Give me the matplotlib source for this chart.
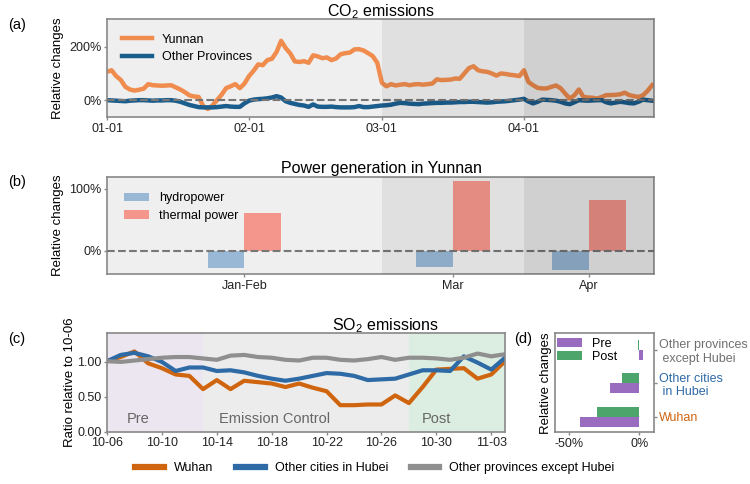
import matplotlib.pyplot as plt
import numpy as np

plt.rcParams['font.family'] = 'Liberation Sans'
plt.rcParams['mathtext.default'] = 'regular'

# (a) daily CO2 relative changes, 01-01 .. 04-29 (%)
yunnan = [106, 112, 90, 76, 50, 40, 36, 39, 43, 60,
          56, 55, 54, 55, 56, 48, 40, 30, 18, 14,
          12, -22, -33, -20, 0, 20, 45, 52, 60, 45,
          62, 90, 110, 134, 131, 150, 155, 180, 222, 195,
          175, 145, 143, 146, 140, 168, 164, 157, 160, 150,
          156, 172, 176, 178, 190, 191, 186, 176, 165, 140,
          65, 52, 60, 55, 58, 60, 56, 59, 60, 58,
          60, 62, 78, 75, 76, 77, 81, 80, 100, 120,
          127, 112, 108, 106, 100, 92, 100, 98, 95, 93,
          90, 112, 68, 56, 46, 44, 44, 50, 55, 45,
          25, 6, 18, 40, 12, 10, 9, 6, 12, 19,
          19, 20, 22, 28, 19, 15, 12, 18, 35, 56]
other_prov = [0, -1, -2, -3, -4, -2, -1, 0, 0, -1,
              -2, -1, -1, 0, 0, -2, -6, -12, -18, -22,
              -26, -27, -27, -27, -26, -24, -22, -24, -25, -25,
              -12, -2, 2, 4, 5, 7, 10, 15, 10, -4,
              -10, -14, -18, -20, -25, -16, -24, -25, -25, -24,
              -26, -27, -27, -27, -26, -22, -26, -26, -24, -22,
              -20, -19, -17, -13, -10, -11, -13, -14, -15, -13,
              -12, -11, -10, -10, -9, -9, -8, -7, -7, -6,
              -6, -7, -8, -9, -8, -6, -5, -4, -2, 0,
              2, 5, -5, -12, -6, 2, 1, 0, -2, -6,
              -12, -15, -8, 0, -1, -2, -1, 0, 0, -8,
              -12, -9, -6, -8, -11, -12, -6, 2, 0, -2]
co2_tick_labels = ['01-01', '02-01', '03-01', '04-01']
co2_tick_days = [0, 31, 60, 91]

# (b) power generation in Yunnan (%)
months = ['Jan-Feb', 'Mar', 'Apr']
month_pos = [30, 75.5, 105.2]
hydro = [-28, -27, -31]
thermal = [61, 112, 82]

# (c) SO2 ratio relative to 10-06
so2_dates = ['10-%02d' % d for d in range(6, 32)] + ['11-%02d' % d for d in range(1, 5)]
wuhan = [1.01, 1.07, 1.15, 0.98, 0.91, 0.82, 0.80, 0.61, 0.74, 0.61,
         0.73, 0.71, 0.69, 0.64, 0.69, 0.63, 0.58, 0.38, 0.38, 0.39,
         0.39, 0.52, 0.41, 0.64, 0.89, 0.90, 0.91, 0.76, 0.82, 1.01]
hubei_other = [1.01, 1.10, 1.13, 1.08, 1.00, 0.87, 0.92, 0.92, 0.87, 0.88,
               0.85, 0.80, 0.76, 0.73, 0.76, 0.80, 0.84, 0.83, 0.80, 0.74,
               0.75, 0.76, 0.82, 0.88, 0.88, 0.87, 1.08, 0.99, 0.89, 1.06]
prov_other = [1.01, 1.00, 1.02, 1.04, 1.06, 1.07, 1.07, 1.05, 1.03, 1.09,
              1.10, 1.07, 1.06, 1.03, 1.02, 1.06, 1.06, 1.03, 1.02, 1.04,
              1.07, 1.03, 1.06, 1.06, 1.05, 1.03, 1.06, 1.12, 1.08, 1.11]

# (d) relative changes by group (%)
groups = ['Wuhan', 'Other cities\n in Hubei', 'Other provinces\n except Hubei']
group_colors = ['#d0650f', '#2e6aa6', '#707070']
pre = [-42, -20.5, 2.4]
post = [-30, -12.5, -1.2]

spine_c = '#888888'
c_yunnan = '#f08c4e'
c_prov = '#1b5e8e'
c_wuhan = '#d0650f'
c_hubei = '#2e6aa6'
c_gray = '#8f8f8f'


def style(ax):
    for s in ax.spines.values():
        s.set_color(spine_c)
        s.set_linewidth(1.2)
    ax.tick_params(colors=spine_c, labelcolor='#222222', labelsize=9,
                   length=2.5, width=1, pad=1.5)


fig = plt.figure(figsize=(7.5, 4.84), dpi=100)
W, H = 750, 484


def add_ax(l, r, t, b):
    return fig.add_axes([l / W, 1 - b / H, (r - l) / W, (b - t) / H])


ax_a = add_ax(107, 654, 18.7, 117)
ax_b = add_ax(107, 654, 176.7, 274.3)
ax_c = add_ax(107, 505, 333.3, 431.7)
ax_d = add_ax(555, 654, 333.3, 432.3)

# ---- (a)
days = np.arange(len(yunnan))
ax_a.set_facecolor('#efefef')
ax_a.plot(days, yunnan, color=c_yunnan, lw=3.2, label='Yunnan', zorder=2)
ax_a.plot(days, other_prov, color=c_prov, lw=3.2, label='Other Provinces', zorder=2)
ax_a.axhline(0, color='#777777', ls='--', lw=1.5, zorder=3)
ax_a.axvspan(60, 91, color='k', alpha=0.063, lw=0, zorder=4)
ax_a.axvspan(91, 119.4, color='k', alpha=0.13, lw=0, zorder=4)
ax_a.set_xlim(0, 119.4)
ax_a.set_ylim(-63, 305)
ax_a.set_xticks(co2_tick_days)
ax_a.set_xticklabels(co2_tick_labels)
ax_a.set_yticks([0, 200])
ax_a.set_yticklabels(['0%', '200%'])
ax_a.set_ylabel('Relative changes', fontsize=9.5)
style(ax_a)
ax_a.legend(loc='upper left', bbox_to_anchor=(0.018, 0.90), frameon=False,
            fontsize=9, handlelength=2.4, borderaxespad=0, labelspacing=0.45)

# ---- (b)
ax_b.set_facecolor('#efefef')
ax_b.bar(month_pos, hydro, width=-8, align='edge', color='#98b8d6',
         label='hydropower', zorder=2)
ax_b.bar(month_pos, thermal, width=8, align='edge', color='#f4968b',
         label='thermal power', zorder=2)
ax_b.axhline(0, color='#777777', ls='--', lw=1.5, zorder=3)
ax_b.axvspan(60, 91, color='k', alpha=0.063, lw=0, zorder=4)
ax_b.axvspan(91, 119.4, color='k', alpha=0.13, lw=0, zorder=4)
ax_b.set_xlim(0, 119.4)
ax_b.set_ylim(-38, 119)
ax_b.set_xticks(month_pos)
ax_b.set_xticklabels(months)
ax_b.set_yticks([0, 100])
ax_b.set_yticklabels(['0%', '100%'])
ax_b.set_ylabel('Relative changes', fontsize=9.5)
style(ax_b)
ax_b.legend(loc='upper left', bbox_to_anchor=(0.022, 0.89), frameon=False,
            fontsize=9, handlelength=2.0, borderaxespad=0, labelspacing=0.45)

# ---- (c)
x = np.arange(len(so2_dates))
ax_c.axvspan(0, 7, color='#ece6f0', lw=0, zorder=0)
ax_c.axvspan(7, 22, color='#ececec', lw=0, zorder=0)
ax_c.axvspan(22, 29, color='#dceee2', lw=0, zorder=0)
l1, = ax_c.plot(x, wuhan, color=c_wuhan, lw=3, label='Wuhan')
l2, = ax_c.plot(x, hubei_other, color=c_hubei, lw=3, label='Other cities in Hubei')
l3, = ax_c.plot(x, prov_other, color=c_gray, lw=3, label='Other provinces except Hubei')
for tx, s in [(2.3, 'Pre'), (12.2, 'Emission Control'), (24.0, 'Post')]:
    ax_c.text(tx, 0.176, s, ha='center', va='center', fontsize=10.5, color='#666666')
ax_c.set_xlim(0, 29)
ax_c.set_ylim(0, 1.41)
ax_c.set_xticks(x[::4])
ax_c.set_xticklabels(so2_dates[::4])
ax_c.set_yticks([0, 0.5, 1.0])
ax_c.set_yticklabels(['0.00', '0.50', '1.00'])
ax_c.set_ylabel('Ratio relative to 10-06', fontsize=9.5, labelpad=1)
style(ax_c)

leg = fig.legend(handles=[l1, l2, l3], loc='center', bbox_to_anchor=(0.5, 1 - 468 / H),
                 ncol=3, frameon=False, fontsize=9, handlelength=2.3,
                 columnspacing=1.8)
for h in leg.get_lines():
    h.set_linewidth(4.5)

# ---- (d)
y = np.arange(len(groups))
ax_d.barh(y - 0.15, pre, height=0.3, color='#9a6cbf', label='Pre')
ax_d.barh(y + 0.15, post, height=0.3, color='#4ea56c', label='Post')
ax_d.set_xlim(-60, 10.5)
ax_d.set_ylim(-0.47, 2.49)
ax_d.set_xticks([-50, 0])
ax_d.set_xticklabels(['-50%', '0%'])
ax_d.set_yticks(y)
ax_d.set_yticklabels(groups)
ax_d.yaxis.tick_right()
style(ax_d)
ax_d.tick_params(axis='y', pad=1)
for lab, c in zip(ax_d.get_yticklabels(), group_colors):
    lab.set_color(c)
    lab.set_ha('left')
ax_d.set_ylabel('Relative changes', fontsize=9.5, labelpad=2)
ax_d.yaxis.set_label_position('left')
ax_d.legend(loc='upper left', bbox_to_anchor=(-0.01, 0.98), frameon=False,
            fontsize=9, handlelength=2.0, borderaxespad=0, labelspacing=0.1,
            borderpad=0.2)

# titles and panel letters
fig.text(380.5 / W, 1 - 16.7 / H, 'CO$_2$ emissions', ha='center', va='baseline', fontsize=11.5)
fig.text(381 / W, 1 - 172.7 / H, 'Power generation in Yunnan', ha='center', va='baseline', fontsize=11.5)
fig.text(385.5 / W, 1 - 330 / H, 'SO$_2$ emissions', ha='center', va='baseline', fontsize=11.5)
for px, py, s in [(17, 25.5, '(a)'), (17, 182, '(b)'), (17, 339, '(c)'), (523, 339, '(d)')]:
    fig.text(px / W, 1 - py / H, s, ha='center', va='center', fontsize=10.5)

fig.savefig('out.png', dpi=100)
